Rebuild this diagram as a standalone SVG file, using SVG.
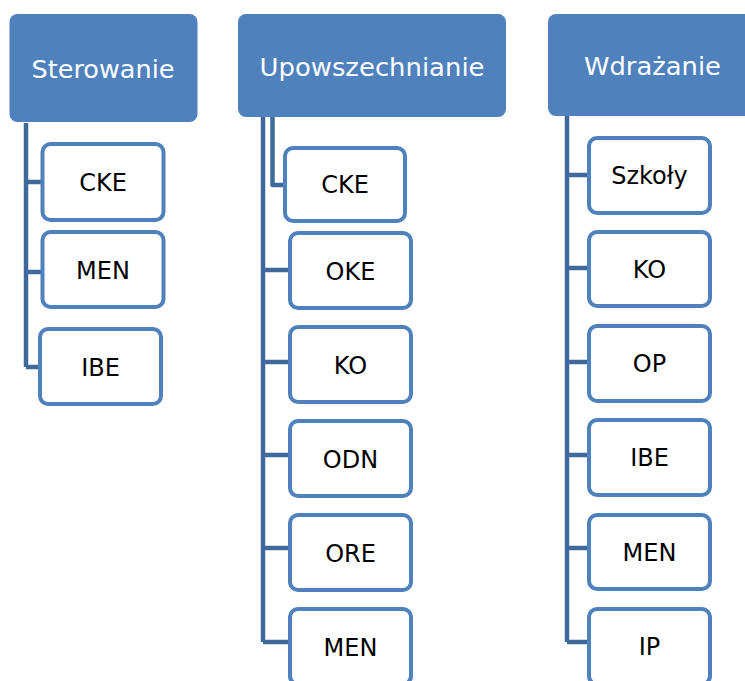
<svg xmlns="http://www.w3.org/2000/svg" width="745" height="681" viewBox="0 0 745 681">
<style>
.hdr rect{fill:#4F81BD;stroke:none}
.hdr text{fill:#FFFFFF;font-family:"DejaVu Sans",sans-serif;font-size:24px;text-anchor:middle}
.box rect{fill:#FFFFFF;stroke:#4F81BD;stroke-width:4}
.box text{fill:#000000;font-family:"DejaVu Sans",sans-serif;font-size:24px;text-anchor:middle}
.conn{fill:none;stroke:#40699B;stroke-width:4.5;stroke-linejoin:round}
</style>
<rect width="745" height="681" fill="#FFFFFF"/>
<g id="connectors">
<path class="conn" d="M26,123 V367 M26,182 H43 M26,272 H43 M26,367 H40"/>
<path class="conn" d="M263,117 V642 M263,270 H290 M263,362 H290 M263,455 H290 M263,548 H290 M263,642 H290"/>
<path class="conn" d="M272.5,117 V185 H285"/>
<path class="conn" d="M567,116 V642 M567,175 H589 M567,268 H589 M567,362 H589 M567,455 H589 M567,548 H589 M567,642 H589"/>
</g>
<g id="h-sterowanie" class="hdr"><rect x="9.5" y="14" width="188" height="108" rx="8"/><text x="103" y="78" textLength="143" lengthAdjust="spacingAndGlyphs">Sterowanie</text></g>
<g id="h-upowszechnianie" class="hdr"><rect x="238" y="14" width="268" height="103" rx="8"/><text x="372" y="76" textLength="225" lengthAdjust="spacingAndGlyphs">Upowszechnianie</text></g>
<g id="h-wdrazanie" class="hdr"><rect x="548" y="14" width="212" height="102" rx="8"/><text x="652.5" y="75" textLength="137" lengthAdjust="spacingAndGlyphs">Wdrażanie</text></g>

<g id="s-cke" class="box"><rect x="42.5" y="144" width="121" height="76" rx="8"/><text x="103" y="191">CKE</text></g>
<g id="s-men" class="box"><rect x="42.5" y="232" width="121" height="75" rx="8"/><text x="103" y="279">MEN</text></g>
<g id="s-ibe" class="box"><rect x="40" y="329" width="121" height="75" rx="8"/><text x="100.5" y="376">IBE</text></g>

<g id="u-cke" class="box"><rect x="285" y="148" width="120" height="73" rx="8"/><text x="345" y="193">CKE</text></g>
<g id="u-oke" class="box"><rect x="290" y="233" width="121" height="75" rx="8"/><text x="350.5" y="280">OKE</text></g>
<g id="u-ko" class="box"><rect x="290" y="327" width="121" height="75" rx="8"/><text x="350.5" y="374">KO</text></g>
<g id="u-odn" class="box"><rect x="290" y="421" width="121" height="75" rx="8"/><text x="350.5" y="468">ODN</text></g>
<g id="u-ore" class="box"><rect x="290" y="515" width="121" height="75" rx="8"/><text x="350.5" y="562">ORE</text></g>
<g id="u-men" class="box"><rect x="290" y="609" width="121" height="75" rx="8"/><text x="350.5" y="656">MEN</text></g>

<g id="w-szkoly" class="box"><rect x="589" y="138" width="121" height="75" rx="8"/><text x="649.5" y="184">Szkoły</text></g>
<g id="w-ko" class="box"><rect x="589" y="232" width="121" height="74" rx="8"/><text x="649.5" y="278">KO</text></g>
<g id="w-op" class="box"><rect x="589" y="326" width="121" height="75" rx="8"/><text x="649.5" y="372">OP</text></g>
<g id="w-ibe" class="box"><rect x="589" y="420" width="121" height="75" rx="8"/><text x="649.5" y="466">IBE</text></g>
<g id="w-men" class="box"><rect x="589" y="515" width="121" height="74" rx="8"/><text x="649.5" y="561">MEN</text></g>
<g id="w-ip" class="box"><rect x="589" y="609" width="121" height="75" rx="8"/><text x="649.5" y="655">IP</text></g>
</svg>
